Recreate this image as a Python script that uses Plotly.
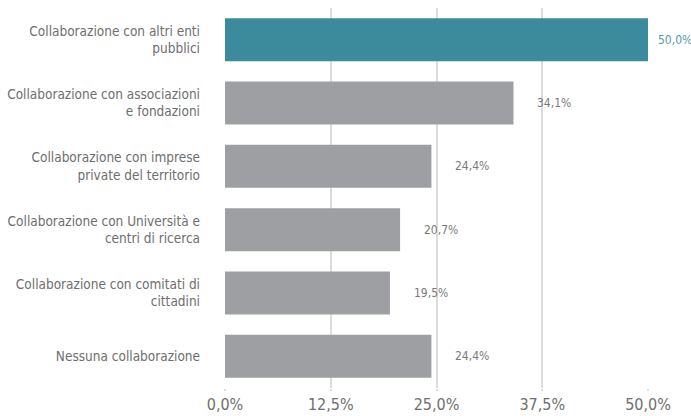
import plotly.graph_objects as go

categories = [
    "Collaborazione con altri enti<br>pubblici",
    "Collaborazione con associazioni<br>e fondazioni",
    "Collaborazione con imprese<br>private del territorio",
    "Collaborazione con Università e<br>centri di ricerca",
    "Collaborazione con comitati di<br>cittadini",
    "Nessuna collaborazione",
]
values = [50.0, 34.1, 24.4, 20.7, 19.5, 24.4]
tick_values = [0, 12.5, 25, 37.5, 50]
tick_labels = ["0,0%", "12,5%", "25,0%", "37,5%", "50,0%"]

TEAL = "#3b8b9c"
GREY = "#9e9fa3"
TEXT = "#6e6e6e"
FONT = "DejaVu Sans Condensed, Roboto, sans-serif"

top = max(values)
bar_colors = [TEAL if v == top else GREY for v in values]

fig = go.Figure(
    go.Bar(
        x=values,
        y=categories,
        orientation="h",
        marker=dict(color=bar_colors, line=dict(width=0)),
        width=0.68,
        hoverinfo="skip",
    )
)

# value labels to the right of each bar
for cat, v in zip(categories, values):
    is_top = v == top
    fig.add_annotation(
        x=v,
        y=cat,
        text=f"{v:.1f}%".replace(".", ","),
        showarrow=False,
        xanchor="left",
        xshift=8 if is_top else 22,
        font=dict(family=FONT, size=12, color="#4f9cab" if is_top else "#7a7a7a"),
    )

fig.update_layout(
    width=691,
    height=416,
    margin=dict(l=225, r=43, t=8, b=28),
    plot_bgcolor="white",
    paper_bgcolor="white",
    showlegend=False,
    font=dict(family=FONT, color=TEXT),
)
fig.update_xaxes(
    range=[0, 50],
    tickvals=tick_values,
    ticktext=tick_labels,
    showgrid=True,
    gridcolor="#dcdcdc",
    gridwidth=2,
    zeroline=False,
    showline=False,
    ticks="outside",
    ticklen=2,
    tickcolor="#dcdcdc",
    tickwidth=2,
    automargin=False,
    tickfont=dict(family=FONT, size=16, color=TEXT),
)
fig.update_yaxes(
    autorange="reversed",
    showgrid=False,
    ticks="",
    automargin=False,
    ticklabelstandoff=24,
    tickfont=dict(family=FONT, size=13.5, color=TEXT),
)

fig.write_html("out.html")
